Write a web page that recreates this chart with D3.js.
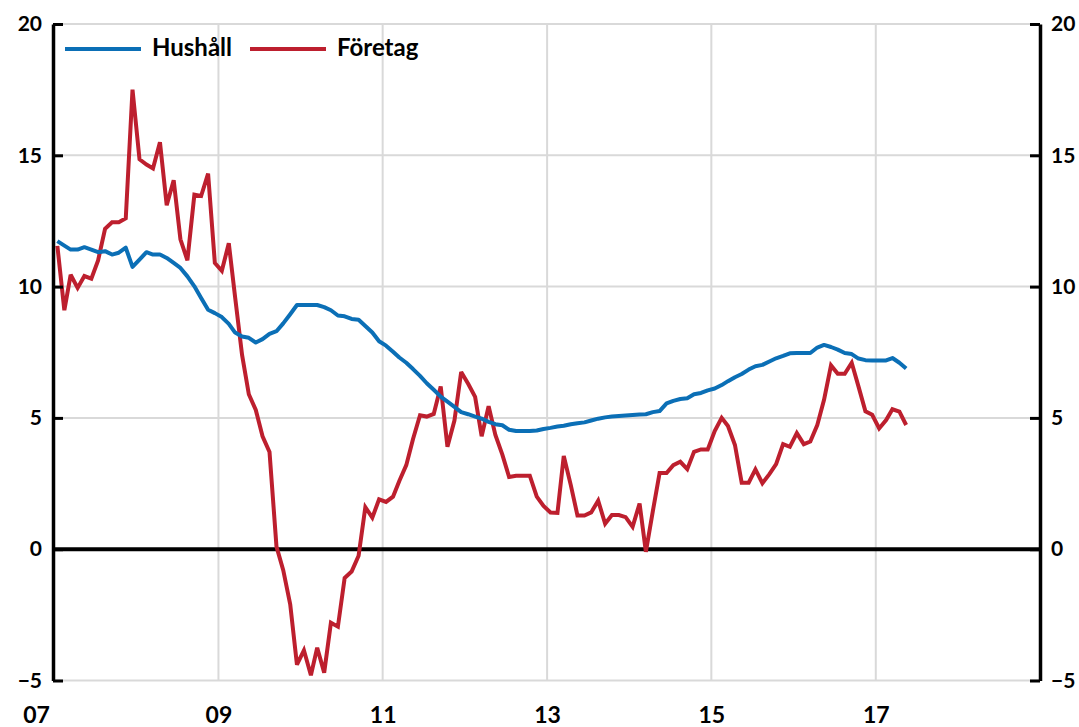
<!DOCTYPE html>
<html>
<head>
<meta charset="utf-8">
<script src="https://cdn.jsdelivr.net/npm/d3@7"></script>
<style>
  html, body { margin: 0; padding: 0; background: #ffffff; }
  svg { display: block; }
  text { font-family: Lato, "Open Sans", "Liberation Sans", sans-serif; font-weight: bold; fill: #000; }
</style>
</head>
<body>
<svg id="chart" width="1079" height="727"></svg>
<script>
// ---- Data (monthly, starting January 2007) ----
const startYear = 2007;
const seriesNames = ["Hushåll", "Företag"];
const hushall = [
  11.73, 11.56, 11.41, 11.41, 11.50, 11.41, 11.31, 11.35, 11.22, 11.29, 11.48, 10.75,
  11.03, 11.31, 11.22, 11.22, 11.09, 10.90, 10.71, 10.39, 10.01, 9.57, 9.12, 8.99,
  8.84, 8.58, 8.25, 8.10, 8.05, 7.87, 8.00, 8.20, 8.30, 8.60, 8.95, 9.30,
  9.30, 9.30, 9.30, 9.22, 9.10, 8.90, 8.87, 8.77, 8.74, 8.50, 8.25, 7.92,
  7.75, 7.52, 7.30, 7.10, 6.86, 6.60, 6.32, 6.07, 5.81, 5.62, 5.42, 5.22,
  5.14, 5.05, 4.97, 4.85, 4.76, 4.72, 4.55, 4.50, 4.50, 4.50, 4.52, 4.58,
  4.62, 4.67, 4.70, 4.76, 4.80, 4.83, 4.90, 4.97, 5.02, 5.05, 5.07, 5.09,
  5.11, 5.13, 5.14, 5.22, 5.26, 5.55, 5.65, 5.72, 5.75, 5.90, 5.95, 6.05,
  6.12, 6.25, 6.40, 6.55, 6.67, 6.84, 6.97, 7.02, 7.15, 7.27, 7.36, 7.46,
  7.47, 7.47, 7.47, 7.68, 7.78, 7.70, 7.60, 7.47, 7.43, 7.26, 7.20, 7.19,
  7.19, 7.19, 7.28, 7.10, 6.88
];
const foretag = [
  11.55, 9.10, 10.45, 9.95, 10.40, 10.30, 11.00, 12.20, 12.45, 12.45, 12.60, 17.50,
  14.85, 14.65, 14.50, 15.50, 13.10, 14.05, 11.80, 11.00, 13.50, 13.45, 14.30, 10.90,
  10.60, 11.65, 9.60, 7.40, 5.90, 5.30, 4.30, 3.70, 0.10, -0.80, -2.10, -4.40,
  -3.85, -4.80, -3.75, -4.70, -2.80, -2.95, -1.10, -0.85, -0.25, 1.60, 1.20, 1.90,
  1.80, 2.00, 2.60, 3.20, 4.20, 5.10, 5.05, 5.15, 6.20, 3.90, 4.90, 6.75,
  6.30, 5.80, 4.30, 5.45, 4.35, 3.60, 2.75, 2.80, 2.80, 2.80, 2.00, 1.65,
  1.40, 1.38, 3.55, 2.45, 1.28, 1.28, 1.40, 1.85, 0.97, 1.30, 1.30, 1.22,
  0.85, 1.74, -0.10, 1.45, 2.90, 2.90, 3.20, 3.33, 3.05, 3.71, 3.80, 3.80,
  4.50, 5.00, 4.69, 3.97, 2.53, 2.53, 3.04, 2.51, 2.86, 3.24, 4.00, 3.90,
  4.42, 4.00, 4.10, 4.73, 5.69, 7.00, 6.68, 6.68, 7.10, 6.20, 5.25, 5.12,
  4.60, 4.92, 5.33, 5.24, 4.73
];
const xTickYears = [2007, 2009, 2011, 2013, 2015, 2017];
const xTickLabels = ["07", "09", "11", "13", "15", "17"];
const xGridYears = [2009, 2011, 2013, 2015, 2017];
const yTicks = [-5, 0, 5, 10, 15, 20];
const yGrid = [-5, 5, 10, 15, 20];
const colors = { "Hushåll": "#0b6fb6", "Företag": "#bd1f2e" };

(function () {
// ---- Layout ----
const svg = d3.select("#chart");
const mLeft = 54, mRight = 1040, mTop = 24, mBottom = 680.5;

const x = d3.scaleTime()
  .domain([new Date(startYear, 0, 1), new Date(2019, 0, 1)])
  .range([mLeft, mRight]);
const y = d3.scaleLinear().domain([-5, 20]).range([mBottom, mTop]);

const dateOf = i => new Date(startYear, i, 16);

// Gridlines
const grid = svg.append("g");
grid.selectAll("line.h").data(yGrid).join("line")
  .attr("class", "h")
  .attr("x1", mLeft).attr("x2", mRight)
  .attr("y1", d => y(d)).attr("y2", d => y(d))
  .attr("stroke", "#d9d9d9").attr("stroke-width", 2);
grid.selectAll("line.v").data(xGridYears).join("line")
  .attr("class", "v")
  .attr("x1", d => x(new Date(d, 0, 1))).attr("x2", d => x(new Date(d, 0, 1)))
  .attr("y1", mTop).attr("y2", mBottom)
  .attr("stroke", "#d9d9d9").attr("stroke-width", 2);

// Zero line
svg.append("line")
  .attr("x1", mLeft).attr("x2", mRight)
  .attr("y1", y(0)).attr("y2", y(0))
  .attr("stroke", "#000").attr("stroke-width", 4);

// Series lines
const line = d3.line()
  .x((d, i) => x(dateOf(i)))
  .y(d => y(d));

svg.append("path").datum(foretag)
  .attr("d", line).attr("fill", "none")
  .attr("stroke", colors["Företag"]).attr("stroke-width", 4)
  .attr("stroke-linejoin", "miter").attr("stroke-miterlimit", 3);

svg.append("path").datum(hushall)
  .attr("d", line).attr("fill", "none")
  .attr("stroke", colors["Hushåll"]).attr("stroke-width", 4)
  .attr("stroke-linejoin", "round");

// Left axis
const leftAxis = d3.axisLeft(y).tickValues(yTicks).tickFormat(d3.format("d"))
  .tickSizeInner(-10).tickSizeOuter(0).tickPadding(11);
const gl = svg.append("g").attr("transform", `translate(${mLeft - 1},0)`).call(leftAxis);
gl.select(".domain").attr("stroke", "#000").attr("stroke-width", 3.5);
gl.selectAll(".tick line").attr("stroke", "#000").attr("stroke-width", 3);
gl.selectAll(".tick text").attr("font-size", 21).attr("font-family", "Lato, sans-serif").attr("font-weight", "bold");

// Right axis
const rightAxis = d3.axisRight(y).tickValues(yTicks).tickFormat(d3.format("d"))
  .tickSizeInner(-10).tickSizeOuter(0).tickPadding(11);
const gr = svg.append("g").attr("transform", `translate(${mRight},0)`).call(rightAxis);
gr.select(".domain").attr("stroke", "#000").attr("stroke-width", 3.5);
gr.selectAll(".tick line").attr("stroke", "#000").attr("stroke-width", 3);
gr.selectAll(".tick text").attr("font-size", 21).attr("font-family", "Lato, sans-serif").attr("font-weight", "bold");

// Bottom axis (labels only)
const bottomAxis = d3.axisBottom(x)
  .tickValues(xTickYears.map(yv => new Date(yv, 0, 1)))
  .tickFormat((d, i) => xTickLabels[i])
  .tickSize(0).tickPadding(26);
const gb = svg.append("g").attr("transform", `translate(0,${mBottom})`).call(bottomAxis);
gb.select(".domain").remove();
gb.selectAll(".tick text").attr("font-size", 23).attr("font-family", "Lato, sans-serif").attr("font-weight", "bold");
gb.selectAll(".tick text").filter((d, i) => i === 0).attr("dx", -18);

// Legend
const legend = svg.append("g");
const legendItems = [
  { name: "Hushåll", x0: 65 },
  { name: "Företag", x0: 250 }
];
legendItems.forEach(it => {
  legend.append("line")
    .attr("x1", it.x0).attr("x2", it.x0 + 76)
    .attr("y1", 49).attr("y2", 49)
    .attr("stroke", colors[it.name]).attr("stroke-width", 4);
  legend.append("text")
    .attr("x", it.x0 + 87).attr("y", 56)
    .attr("font-size", 24)
    .text(it.name);
});
})();
</script>
</body>
</html>
